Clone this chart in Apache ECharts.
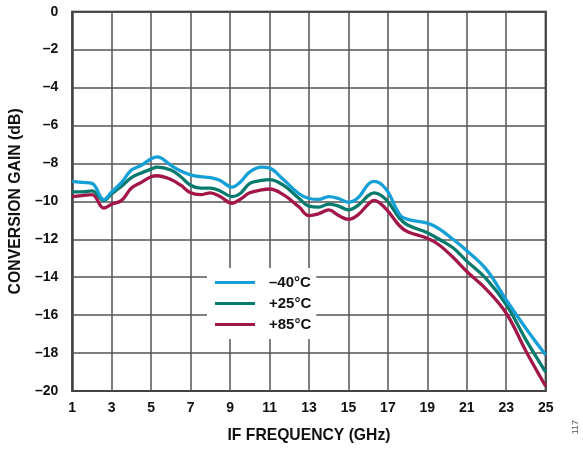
<!DOCTYPE html>
<html><head><meta charset="utf-8">
<script src="https://cdn.jsdelivr.net/npm/echarts@6/dist/echarts.min.js"></script>
<style>html,body{margin:0;padding:0;background:#fff}#c{width:583px;height:449px}</style>
</head><body><div id="c"></div>
<script>
const freq = [1,1.5,2,2.6,3,3.5,4,4.5,5,5.3,6,6.5,7,7.5,8,8.5,9.1,9.5,10,10.6,11,11.7,12.5,13,13.5,14,14.5,15,15.5,16,16.3,16.9,17.6,18,19,19.6,20.3,21,22,23,24,25];
const gainM40 = [-8.95,-9.0,-9.05,-9.9,-9.5,-9.0,-8.35,-8.1,-7.75,-7.65,-8.1,-8.4,-8.6,-8.7,-8.75,-8.9,-9.25,-9.0,-8.45,-8.2,-8.25,-8.85,-9.6,-9.85,-9.9,-9.75,-9.85,-10.05,-9.8,-9.1,-8.95,-9.35,-10.7,-10.95,-11.15,-11.45,-12.0,-12.6,-13.6,-15.2,-16.7,-18.1];
const gainP25 = [-9.5,-9.5,-9.45,-9.95,-9.6,-9.2,-8.75,-8.5,-8.3,-8.2,-8.35,-8.7,-9.15,-9.3,-9.3,-9.45,-9.75,-9.6,-9.05,-8.9,-8.85,-9.15,-9.85,-10.25,-10.3,-10.15,-10.25,-10.45,-10.2,-9.7,-9.55,-9.9,-10.9,-11.25,-11.65,-12.0,-12.45,-13.15,-14.1,-15.45,-17.3,-19.0];
const gainP85 = [-9.75,-9.7,-9.65,-10.35,-10.15,-9.95,-9.3,-9.0,-8.7,-8.65,-8.85,-9.15,-9.55,-9.65,-9.55,-9.75,-10.1,-9.9,-9.55,-9.4,-9.35,-9.65,-10.3,-10.75,-10.65,-10.45,-10.75,-10.95,-10.7,-10.15,-9.95,-10.4,-11.3,-11.6,-11.95,-12.3,-12.95,-13.7,-14.65,-15.9,-17.9,-19.75];
const seriesNames = ['\u201340\u00b0C','+25\u00b0C','+85\u00b0C'];
const xTicks = [1,3,5,7,9,11,13,15,17,19,21,23,25];
const yTicks = [0,-2,-4,-6,-8,-10,-12,-14,-16,-18,-20];

const colors = ['#14a0d6','#077a6e','#a3164a'];
const pairs = a => freq.map((f,i)=>[f,a[i]]);
const font = 'Liberation Sans, Arial, sans-serif';
const chart = echarts.init(document.getElementById('c'));
chart.setOption({
  animation:false,
  grid:{left:71.5,right:37.3,top:11.7,bottom:57.3,show:true,borderColor:'#111',borderWidth:2,containLabel:false},
  xAxis:{type:'value',min:1,max:25,interval:2,
    name:'IF FREQUENCY (GHz)',nameLocation:'middle',nameGap:37,
    nameTextStyle:{fontFamily:font,fontWeight:'bold',fontSize:15.7,color:'#111'},
    axisLine:{show:false},axisTick:{show:false},
    axisLabel:{margin:10,fontFamily:font,fontWeight:'bold',fontSize:14,color:'#111'},
    splitLine:{show:true,lineStyle:{color:'#555',width:1.5}}},
  yAxis:{type:'value',min:-20,max:0,interval:2,
    name:'CONVERSION GAIN (dB)',nameLocation:'middle',nameGap:47,
    nameTextStyle:{fontFamily:font,fontWeight:'bold',fontSize:15.8,color:'#111'},
    axisLine:{show:false},axisTick:{show:false},
    axisLabel:{margin:14,fontFamily:font,fontWeight:'bold',fontSize:14,color:'#111',
      formatter:v=>String(v).replace('-','\u2013')},
    splitLine:{show:true,lineStyle:{color:'#555',width:1.5}}},
  legend:{left:207,top:268,orient:'vertical',backgroundColor:'#fff',
    padding:[6,5,6,8],itemWidth:40,itemHeight:3,itemGap:4,icon:'rect',
    textStyle:{fontFamily:font,fontWeight:'bold',fontSize:15,color:'#111',padding:[0,0,0,9],lineHeight:17},
    data:seriesNames},
  series:[gainM40,gainP25,gainP85].map((d,i)=>({
    name:seriesNames[i],type:'line',data:pairs(d),smooth:0.4,symbol:'none',
    lineStyle:{color:colors[i],width:3.3},itemStyle:{color:colors[i]},z:3-i
  })),
  graphic:[{type:'text',left:571,top:420,rotation:Math.PI/2,
    style:{text:'117',fontFamily:font,fontSize:9,fill:'#555'}}]
});
</script></body></html>
